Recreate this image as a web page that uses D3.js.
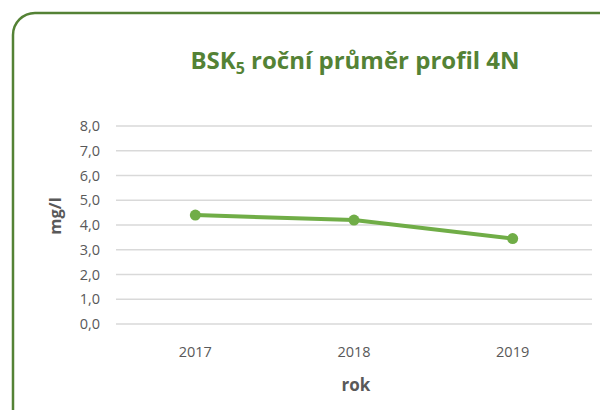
<!DOCTYPE html>
<html><head><meta charset="utf-8">
<script src="https://cdn.jsdelivr.net/npm/d3@7"></script>
<style>html,body{margin:0;padding:0;background:#fff;}svg{display:block;}</style>
</head><body>
<svg id="c" width="600" height="410"></svg>
<script>
const categories = ["2017", "2018", "2019"];
const values = [4.4, 4.2, 3.45];
const yTicks = [0, 1, 2, 3, 4, 5, 6, 7, 8];

const svg = d3.select("#c");
const font = "'Open Sans', 'Liberation Sans', sans-serif";
svg.append("rect").attr("x", 13).attr("y", 13).attr("width", 610).attr("height", 420)
  .attr("rx", 22).attr("fill", "#fff").attr("stroke", "#548235").attr("stroke-width", 2.5);

const x = d3.scaleBand().domain(categories).range([116, 592]);
const y = d3.scaleLinear().domain([0, 8]).range([324, 126]);

const g = svg.append("g");
g.selectAll("line.grid").data(yTicks).enter().append("line")
  .attr("x1", 116).attr("x2", 592).attr("y1", d => y(d)).attr("y2", d => y(d))
  .attr("stroke", "#d9d9d9").attr("stroke-width", 1.3);

g.selectAll("text.yt").data(yTicks).enter().append("text")
  .attr("x", 100).attr("y", d => y(d)).attr("dy", "0.36em").attr("text-anchor", "end")
  .attr("font-family", font).attr("font-size", 14.5).attr("fill", "#595959")
  .text(d => d3.format(".1f")(d).replace(".", ","));

g.selectAll("text.xt").data(categories).enter().append("text")
  .attr("x", d => x(d) + x.bandwidth() / 2).attr("y", 357).attr("text-anchor", "middle")
  .attr("font-family", font).attr("font-size", 14.5).attr("fill", "#595959").text(d => d);

const line = d3.line().x((d, i) => x(categories[i]) + x.bandwidth() / 2).y(d => y(d));
g.append("path").datum(values).attr("d", line).attr("fill", "none")
  .attr("stroke", "#70ad47").attr("stroke-width", 4).attr("stroke-linejoin", "round");
g.selectAll("circle").data(values).enter().append("circle")
  .attr("cx", (d, i) => x(categories[i]) + x.bandwidth() / 2).attr("cy", d => y(d))
  .attr("r", 5.5).attr("fill", "#70ad47");

svg.append("text").attr("x", 356).attr("y", 391).attr("text-anchor", "middle")
  .attr("font-family", font).attr("font-size", 17).attr("font-weight", "bold").attr("fill", "#595959").text("rok");
svg.append("text").attr("transform", "translate(61,216) rotate(-90)").attr("text-anchor", "middle")
  .attr("font-family", font).attr("font-size", 16.5).attr("font-weight", "bold").attr("fill", "#595959").text("mg/l");

const t = svg.append("text").attr("x", 355).attr("y", 69).attr("text-anchor", "middle")
  .attr("font-family", font).attr("font-size", 24).attr("font-weight", "bold").attr("fill", "#548235");
t.append("tspan").text("BSK");
t.append("tspan").attr("font-size", 16).attr("dy", 5).text("5");
t.append("tspan").attr("dy", -5).text(" roční průměr profil 4N");
</script>
</body></html>
